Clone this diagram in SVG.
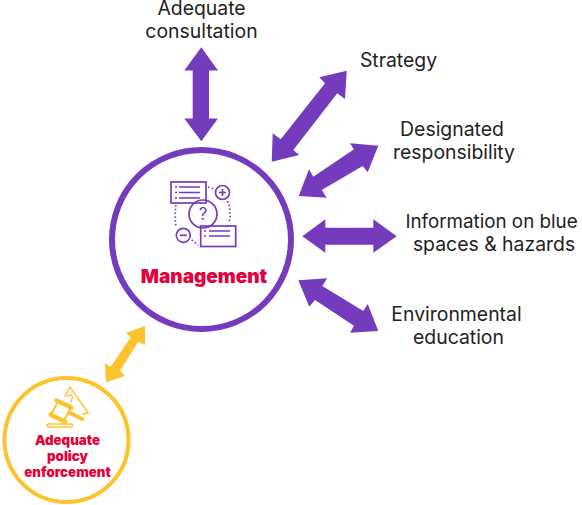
<svg xmlns="http://www.w3.org/2000/svg" width="582" height="505" viewBox="0 0 582 505">
<style>
.arrow{fill:#753bbd}
.yarrow{fill:#fdc32d}
.lbl{font-family:Inter,"Liberation Sans",sans-serif;font-size:19.400px;fill:#222;text-anchor:middle}
.red{font-family:Inter,"Liberation Sans",sans-serif;font-weight:900;fill:#e4003a;text-anchor:middle}
.ic{fill:none;stroke:#753bbd;stroke-width:1.700}
.icd{fill:none;stroke:#753bbd;stroke-width:1.700;stroke-dasharray:1.500 2.300}
.yi{fill:none;stroke:#fdc32d;stroke-width:1.400}
.yb{fill:none;stroke:#fdc32d;stroke-width:4.200;stroke-linecap:round}
.yt{fill:none;stroke:#fdc32d;stroke-width:2}
</style>
<rect width="582" height="505" fill="#fff"/>
<g id="connectors">
<polygon class="arrow" points="201.300,47.300 218,70.500 209,70.500 209,118.500 218,118.500 201.300,141.300 184.300,118.500 192.700,118.500 192.700,70.500 184.300,70.500"/>
<polygon class="arrow" points="346.700,70.700 345,99 337.300,93.300 293.300,150 299.300,155 271.700,161.700 272.700,133.300 280.700,139.300 325,83.300 319.300,77.300"/>
<polygon class="arrow" points="378.300,145.700 367.700,172.300 362.700,166 321.700,190 326.700,197.700 298.700,196 309,169.300 313.300,176.700 354,149.300 350,143.300"/>
<polygon class="arrow" points="302.300,236.300 325.300,219.300 325.300,227.700 373.300,227.700 373.300,219.300 396.700,236.300 373.300,252.700 373.300,244.700 325.300,244.700 325.300,252.700"/>
<polygon class="arrow" points="298.300,280.300 327.300,278.300 322.300,286 363.300,311 367.700,304 378.300,331 350,332.700 354,325.700 315,300 309.300,306.700"/>
<polygon class="yarrow" points="145,326 145,345 138.300,341.700 120,370.700 125,376 106,382.300 105,363.300 110.700,366.700 130.700,337.300 126,332.700"/>
</g>
<g id="management">
<circle cx="201.500" cy="239.500" r="89.500" fill="#fff" stroke="#753bbd" stroke-width="6"/>
<rect class="ic" x="171" y="182" width="35" height="21"/>
<path class="ic" d="M179 187H200M179 192.500H200M179 198H200M175 187H177M175 192.500H177M175 198H177"/>
<circle class="ic" cx="222.500" cy="192.500" r="7"/>
<path class="ic" d="M219 192.500H226M222.500 189V196"/>
<circle class="ic" cx="203" cy="214" r="14"/>
<text x="203" y="220" font-family="Inter,'Liberation Sans',sans-serif" font-size="17" fill="#753bbd" text-anchor="middle">?</text>
<rect class="ic" x="200.700" y="226" width="35" height="20.500"/>
<path class="ic" d="M209 231H230M209 236H230M204 231H206M204 236H206"/>
<circle class="ic" cx="183.300" cy="235.300" r="7"/>
<path class="ic" d="M179.800 235.300H186.800"/>
<path class="icd" d="M208 187L214 189M227.500 201Q232 212 229 223M176 205Q174.500 216 176 227M191.700 240L198.300 245"/>
<text class="red" x="204" y="283" font-size="19">Management</text>
</g>
<g id="policy">
<circle cx="66.500" cy="440" r="62" fill="#fff" stroke="#fdc32d" stroke-width="4"/>
<path class="yi" d="M64.500 397L70 387L88.300 413L81.700 414.300M68 397Q67 395 70 395Q73 395 72 399L71 402"/>
<path class="yb" d="M56.500 400.500L71.500 407.500M50.500 414.500L65.500 422M69.500 412.500L82 419"/>
<path class="yt" d="M57 403.500L51 414.500M70.500 408.500L64.500 419.500"/>
<rect class="yi" x="47" y="424" width="25.500" height="3" rx="1.500"/>
<text class="red" font-size="13.300"><tspan x="67.500" y="445">Adequate</tspan><tspan x="67.500" y="461">policy</tspan><tspan x="67.500" y="477">enforcement</tspan></text>
</g>
<g id="label-consultation"><text class="lbl"><tspan x="201.500" y="14.500">Adequate</tspan><tspan x="201.500" y="37.500">consultation</tspan></text></g>
<g id="label-strategy"><text class="lbl" x="398.500" y="66.500">Strategy</text></g>
<g id="label-responsibility"><text class="lbl"><tspan x="452" y="135.500">Designated</tspan><tspan x="454" y="158.500">responsibility</tspan></text></g>
<g id="label-information"><text class="lbl"><tspan x="491.500" y="227.500" font-size="18.800">Information on blue</tspan><tspan x="494" y="250.500">spaces &amp; hazards</tspan></text></g>
<g id="label-education"><text class="lbl"><tspan x="456.500" y="320.500">Environmental</tspan><tspan x="458.500" y="343.500">education</tspan></text></g>
</svg>
